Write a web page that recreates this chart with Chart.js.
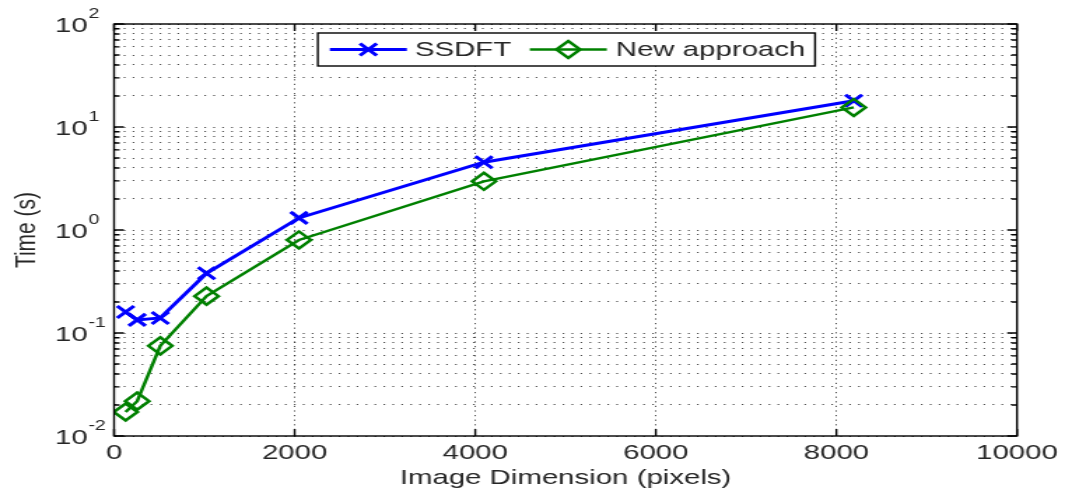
<!DOCTYPE html>
<html>
<head>
<meta charset="utf-8">
<title>Run time vs image dimension</title>
<script src="https://cdn.jsdelivr.net/npm/chart.js@4.4.1/dist/chart.umd.min.js"></script>
<style>
  html, body { margin: 0; padding: 0; background: #fff; }
</style>
</head>
<body>
<!-- drawn at 761px wide and shown at 1065px, so text and marks come out wide -->
<canvas id="timing" width="761" height="493" style="width:1065px;height:493px"></canvas>
<script>
// image side length in pixels
var dims = [128, 256, 512, 1024, 2048, 4096, 8192];
// run times in seconds
var ssdftTimes = [0.16, 0.134, 0.14, 0.38, 1.31, 4.55, 18.0];
var newTimes = [0.0171, 0.0218, 0.075, 0.228, 0.80, 2.97, 15.5];
var seriesNames = ['SSDFT', 'New approach'];

var xTickValues = [0, 2000, 4000, 6000, 8000, 10000];
var yExponents = [-2, -1, 0, 1, 2];

var FONT = "'Liberation Sans', Arial, sans-serif";
var INK = '#262626';

// decade ticks plus the 2..9 minor ones in between
function logTicks() {
  var out = [];
  for (var i = 0; i < yExponents.length; i++) {
    var base = Math.pow(10, yExponents[i]);
    out.push({ value: base, major: true, exp: yExponents[i] });
    if (i < yExponents.length - 1) {
      for (var m = 2; m <= 9; m++) out.push({ value: m * base, major: false });
    }
  }
  return out;
}

function drawMarker(ctx, style, cx, cy, r) {
  ctx.beginPath();
  if (style === 'crossRot') {
    var d = r * Math.SQRT1_2;
    ctx.moveTo(cx - d, cy - d); ctx.lineTo(cx + d, cy + d);
    ctx.moveTo(cx + d, cy - d); ctx.lineTo(cx - d, cy + d);
  } else {
    ctx.moveTo(cx - r, cy); ctx.lineTo(cx, cy - r);
    ctx.lineTo(cx + r, cy); ctx.lineTo(cx, cy + r);
    ctx.closePath();
  }
  ctx.stroke();
}

// box, inward ticks on all sides, 10^n labels and the boxed legend
var axesBox = {
  id: 'axesBox',
  afterDraw: function (chart) {
    var ctx = chart.ctx, a = chart.chartArea;
    var xs = chart.scales.x, ys = chart.scales.y;
    ctx.save();
    ctx.strokeStyle = '#000';
    ctx.lineWidth = 1.4;
    ctx.setLineDash([]);
    ctx.beginPath();
    xs.ticks.forEach(function (t) {
      var px = xs.getPixelForValue(t.value);
      ctx.moveTo(px, a.bottom); ctx.lineTo(px, a.bottom - 7);
      ctx.moveTo(px, a.top); ctx.lineTo(px, a.top + 7);
    });
    ys.ticks.forEach(function (t) {
      var py = ys.getPixelForValue(t.value);
      var len = t.major ? 7 : 4;
      ctx.moveTo(a.left, py); ctx.lineTo(a.left + len, py);
      ctx.moveTo(a.right, py); ctx.lineTo(a.right - len, py);
    });
    ctx.stroke();
    ctx.strokeRect(a.left, a.top, a.right - a.left, a.bottom - a.top);

    // y labels as 10 with a raised exponent
    ctx.fillStyle = INK;
    ctx.textAlign = 'left';
    ctx.textBaseline = 'alphabetic';
    ys.ticks.forEach(function (t) {
      if (!t.major) return;
      var py = ys.getPixelForValue(t.value);
      ctx.font = '21px ' + FONT;
      ctx.fillText('10', 39.3, py + 7.5);
      var w = ctx.measureText('10').width;
      ctx.font = '14px ' + FONT;
      ctx.fillText(String(t.exp), 39.3 + w + 0.5, py - 6.5);
    });

    // legend
    var box = { left: 227.1, top: 33, right: 582.4, bottom: 66 };
    ctx.fillStyle = '#fff';
    ctx.fillRect(box.left, box.top, box.right - box.left, box.bottom - box.top);
    ctx.strokeStyle = '#000';
    ctx.lineWidth = 1.4;
    ctx.strokeRect(box.left, box.top, box.right - box.left, box.bottom - box.top);
    var rows = [
      { x0: 235.7, x1: 290.7, tx: 296.4 },
      { x0: 378.6, x1: 433.6, tx: 440.0 }
    ];
    var cy = 49.5;
    chart.data.datasets.forEach(function (ds, i) {
      var r = rows[i];
      ctx.strokeStyle = ds.borderColor;
      ctx.lineWidth = ds.borderWidth;
      ctx.beginPath();
      ctx.moveTo(r.x0, cy); ctx.lineTo(r.x1, cy);
      ctx.stroke();
      ctx.lineWidth = ds.pointBorderWidth;
      drawMarker(ctx, ds.pointStyle, (r.x0 + r.x1) / 2, cy, ds.pointRadius);
      ctx.fillStyle = INK;
      ctx.font = '21px ' + FONT;
      ctx.fillText(ds.label, r.tx, 56.2);
    });
    ctx.restore();
  }
};

var ctx = document.getElementById('timing').getContext('2d');
var chart = new Chart(ctx, {
  type: 'line',
  data: {
    datasets: [{
      label: seriesNames[0],
      data: dims.map(function (d, i) { return { x: d, y: ssdftTimes[i] }; }),
      borderColor: '#0000ff',
      borderWidth: 3,
      pointStyle: 'crossRot',
      pointRadius: 8.5,
      pointBorderWidth: 3,
      pointBorderColor: '#0000ff',
      pointBackgroundColor: 'transparent',
      tension: 0,
      order: 1
    }, {
      label: seriesNames[1],
      data: dims.map(function (d, i) { return { x: d, y: newTimes[i] }; }),
      borderColor: '#008000',
      borderWidth: 2.5,
      pointStyle: 'rectRot',
      pointRadius: 8.5,
      pointBorderWidth: 2.5,
      pointBorderColor: '#008000',
      pointBackgroundColor: 'transparent',
      tension: 0,
      order: 0
    }]
  },
  options: {
    responsive: false,
    devicePixelRatio: 1,
    animation: false,
    layout: { padding: { top: 24, right: 34.3, left: 0, bottom: 0 } },
    plugins: { legend: { display: false }, tooltip: { enabled: false } },
    scales: {
      x: {
        type: 'linear',
        min: 0,
        max: 10000,
        afterBuildTicks: function (scale) {
          scale.ticks = xTickValues.map(function (v) { return { value: v }; });
        },
        afterFit: function (scale) { scale.height = 57; },
        grid: { color: 'rgba(0,0,0,0.7)', lineWidth: 1, drawTicks: false },
        border: { display: false, dash: [1.2, 3.4] },
        ticks: {
          padding: 5,
          color: INK,
          font: { family: FONT, size: 21 },
          maxRotation: 0,
          callback: function (v) { return String(v); }
        },
        title: {
          display: true,
          text: 'Image Dimension (pixels)',
          color: INK,
          font: { family: FONT, size: 21 },
          padding: { top: 0, bottom: 2.2 }
        }
      },
      y: {
        type: 'logarithmic',
        min: 0.01,
        max: 100,
        afterBuildTicks: function (scale) { scale.ticks = logTicks(); },
        afterFit: function (scale) { scale.width = 81.5; },
        grid: { color: 'rgba(0,0,0,0.7)', lineWidth: 1, drawTicks: false },
        border: { display: false, dash: [1.2, 5.2] },
        ticks: { display: false },
        title: {
          display: true,
          text: 'Time (s)',
          color: INK,
          font: { family: FONT, size: 21 },
          padding: { top: 7, bottom: 0 }
        }
      }
    }
  },
  plugins: [axesBox]
});
</script>
</body>
</html>
